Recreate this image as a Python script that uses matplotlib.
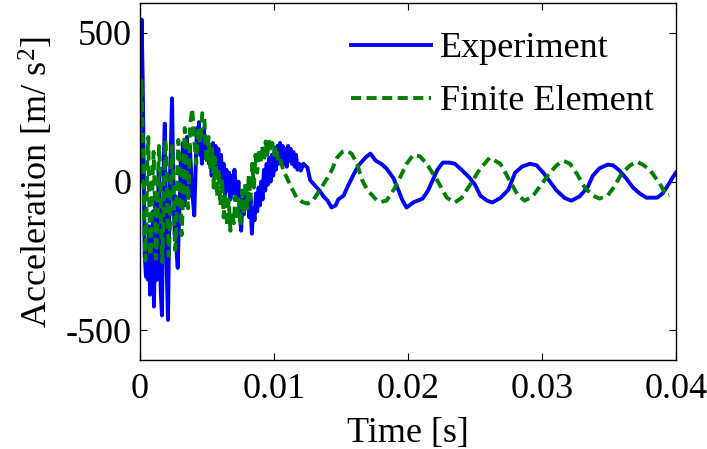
import matplotlib
matplotlib.use("Agg")
import matplotlib.pyplot as plt
import numpy as np

# values; time in milliseconds, acceleration in m/s^2
exp_t_ms = [
    0.00, 0.05, 0.12, 0.20, 0.28, 0.35, 0.45, 0.52, 0.60, 0.68,
    0.75, 0.82, 0.90, 0.97, 1.04, 1.10, 1.17, 1.25, 1.32, 1.40,
    1.48, 1.56, 1.64, 1.70, 1.78, 1.85, 1.92, 2.00, 2.09, 2.15,
    2.22, 2.30, 2.39, 2.45, 2.52, 2.60, 2.68, 2.75, 2.82, 2.90,
    2.98, 3.05, 3.12, 3.20, 3.28, 3.35, 3.42, 3.50, 3.58, 3.65,
    3.72, 3.80, 3.87, 3.95, 4.05, 4.15, 4.25, 4.32, 4.40, 4.48,
    4.55, 4.62, 4.70, 4.78, 4.85, 4.95, 5.05, 5.15, 5.25, 5.35,
    5.45, 5.55, 5.65, 5.75, 5.85, 5.95, 6.05, 6.15, 6.25, 6.35,
    6.45, 6.55, 6.65, 6.75, 6.85, 6.95, 7.05, 7.15, 7.25, 7.35,
    7.45, 7.55, 7.65, 7.75, 7.85, 7.95, 8.05, 8.15, 8.25, 8.35,
    8.45, 8.55, 8.65, 8.75, 8.85, 8.95, 9.05, 9.15, 9.25, 9.35,
    9.45, 9.55, 9.65, 9.75, 9.85, 9.95, 10.05, 10.15, 10.25, 10.35,
    10.45, 10.55, 10.65, 10.75, 10.85, 10.95, 11.05, 11.15, 11.25, 11.35,
    11.45, 11.55, 11.65, 11.75, 11.90, 12.00, 12.20, 12.50, 12.70, 13.00,
    13.40, 13.70, 14.00, 14.30, 14.60, 14.80, 15.20, 15.50, 15.90, 16.30,
    16.90, 17.20, 17.60, 18.00, 18.40, 18.90, 19.30, 19.60, 19.90, 20.40,
    21.10, 21.50, 21.90, 22.20, 22.60, 23.10, 23.50, 24.00, 24.60, 25.00,
    25.40, 25.90, 26.30, 26.90, 27.50, 28.00, 28.50, 29.10, 29.60, 30.10,
    30.60, 31.10, 31.70, 32.20, 32.80, 33.40, 33.80, 34.30, 34.90, 35.30,
    35.80, 36.30, 36.80, 37.30, 37.80, 38.60, 39.00, 39.30, 39.70, 40.00,
]
exp_acc = [
    0, 400, 545, 350, 50, -250, -320, -200, -330, -150,
    -380, -250, -330, -100, -420, -280, -50, -330, -150, 40,
    -250, -380, -450, -200, 80, 195, -100, -300, -465, -250,
    0, 100, 280, 120, -80, -180, -50, -250, -290, -150,
    -50, 80, -60, 130, -40, -80, 60, 150, 50, -50,
    120, 50, -30, -60, -114, 40, 180, 120, 200, 90,
    150, 60, 130, 180, 80, 100, 140, 60, 110, 20,
    130, 50, 120, 60, 110, 20, 90, -10, 60, -50,
    40, -30, 30, -60, 20, -40, 40, -20, -60, 0,
    -100, -165, -60, -110, -30, -90, -40, -120, -60, -175,
    -90, -130, -40, -100, -20, -80, 0, -60, 40, -30,
    60, -10, 80, 0, 90, 20, 110, 40, 120, 60,
    130, 70, 120, 60, 110, 50, 120, 70, 110, 60,
    100, 50, 90, 40, 60, 37, 60, 47, 5, -10,
    -30, -50, -64, -87, -80, -60, -47, -17, 20, 54,
    84, 94, 70, 60, 44, 13, -30, -64, -87, -70,
    -57, -30, 10, 40, 64, 64, 60, 40, 13, -10,
    -47, -64, -70, -55, -27, 30, 50, 60, 55, 30,
    0, -30, -55, -64, -50, -20, 20, 45, 57, 55,
    37, 10, -20, -40, -54, -54, -40, -20, 10, 30,
]

fe_t_ms = [
    0.00, 0.05, 0.10, 0.18, 0.25, 0.32, 0.40, 0.48, 0.55, 0.62,
    0.70, 0.78, 0.86, 0.94, 1.02, 1.10, 1.18, 1.26, 1.34, 1.42,
    1.50, 1.58, 1.66, 1.74, 1.82, 1.90, 1.98, 2.06, 2.14, 2.22,
    2.30, 2.38, 2.46, 2.54, 2.62, 2.70, 2.78, 2.86, 2.94, 3.02,
    3.10, 3.18, 3.26, 3.34, 3.42, 3.50, 3.58, 3.66, 3.74, 3.90,
    4.05, 4.20, 4.35, 4.50, 4.65, 4.80, 4.92, 5.00, 5.12, 5.25,
    5.38, 5.50, 5.62, 5.75, 5.88, 6.00, 6.12, 6.25, 6.38, 6.50,
    6.62, 6.75, 6.88, 7.00, 7.12, 7.25, 7.38, 7.50, 7.62, 7.75,
    7.88, 8.00, 8.12, 8.25, 8.38, 8.50, 8.62, 8.75, 8.88, 9.00,
    9.12, 9.25, 9.38, 9.50, 9.62, 9.75, 9.88, 10.00, 10.15, 10.30,
    10.45, 10.70, 11.00, 11.30, 11.70, 12.10, 12.50, 12.90, 13.40, 14.00,
    14.30, 14.70, 15.10, 15.40, 15.80, 16.20, 16.60, 17.00, 17.70, 18.00,
    18.40, 19.00, 19.40, 19.90, 20.40, 20.90, 21.40, 22.20, 22.90, 23.50,
    24.00, 24.60, 25.40, 26.10, 26.90, 27.60, 28.20, 28.70, 29.30, 29.90,
    30.60, 31.10, 31.60, 32.10, 32.60, 33.20, 33.80, 34.30, 34.90, 35.30,
    36.00, 36.60, 37.10, 37.60, 38.10, 38.80, 39.30, 39.50,
]
fe_acc = [
    150, 280, 340, 200, 50, -150, -265, -120, 80, 150,
    -100, -250, -150, 20, 100, -50, -260, -200, 0, 120,
    50, -150, -270, -150, 30, 140, 60, -130, -250, -180,
    0, 120, 60, -80, -230, -160, 20, 140, 80, -60,
    -180, -100, 60, 180, 130, 0, -90, 20, 190, 245,
    140, 60, 180, 130, 230, 220, 90, 60, 150, 40,
    110, -20, 80, -50, 40, -80, 10, -120, -40, -150,
    -60, -165, -100, -140, -50, -130, -60, -150, -30, -110,
    0, -90, 20, -60, 60, -20, 90, 30, 110, 60,
    120, 70, 135, 90, 140, 100, 130, 90, 120, 70,
    80, 37, 10, -20, -54, -68, -74, -64, -30, 13,
    37, 80, 100, 104, 94, 60, 3, -30, -64, -68,
    -64, -23, 13, 60, 90, 85, 60, 3, -54, -70,
    -55, -13, 44, 80, 60, 3, -45, -64, -50, -13,
    30, 55, 70, 60, 27, -20, -47, -57, -47, -23,
    30, 55, 67, 55, 37, -7, -47, -45,
]

x_ticks = [0, 0.01, 0.02, 0.03, 0.04]
x_tick_labels = ["0", "0.01", "0.02", "0.03", "0.04"]
y_ticks = [-500, 0, 500]
y_tick_labels = ["-500", "0", "500"]

plt.rcParams["font.family"] = ["Liberation Serif", "DejaVu Serif"]
plt.rcParams["mathtext.fontset"] = "custom"
plt.rcParams["mathtext.rm"] = "Liberation Serif"
plt.rcParams["mathtext.it"] = "Liberation Serif"
plt.rcParams["axes.unicode_minus"] = False

FS = 26

fig = plt.figure(figsize=(7.07, 4.49), dpi=100)
ax = fig.add_axes([0.198, 0.198, 0.758, 0.795])

ax.plot(np.array(exp_t_ms) / 1000.0, exp_acc, color="#0000ff", lw=2.8,
        label="Experiment")
ax.plot(np.array(fe_t_ms) / 1000.0, fe_acc, color="#008000", lw=2.8,
        dashes=[2.6, 1.4], label="Finite Element")

ax.set_xlim(0, 0.04)
ax.set_ylim(-600, 600)
ax.set_xticks(x_ticks)
ax.set_xticklabels(x_tick_labels)
ax.set_yticks(y_ticks)
ax.set_yticklabels(y_tick_labels)
ax.tick_params(direction="in", length=5, width=0.8, labelsize=FS,
               top=True, right=True)
ax.tick_params(axis="x", pad=9)
ax.tick_params(axis="y", pad=6)
for side in ax.spines.values():
    side.set_linewidth(1.0)

ax.set_xlabel("Time [s]", fontsize=FS, labelpad=8)
ax.set_ylabel("Acceleration [m/ s$^2$]", fontsize=FS, labelpad=7)

ax.legend(loc="upper right", frameon=False, fontsize=FS, handlelength=2.2,
          handletextpad=0.25, labelspacing=0.55, borderaxespad=0.0,
          bbox_to_anchor=(0.985, 0.96))

fig.savefig("out.png", dpi=100)
